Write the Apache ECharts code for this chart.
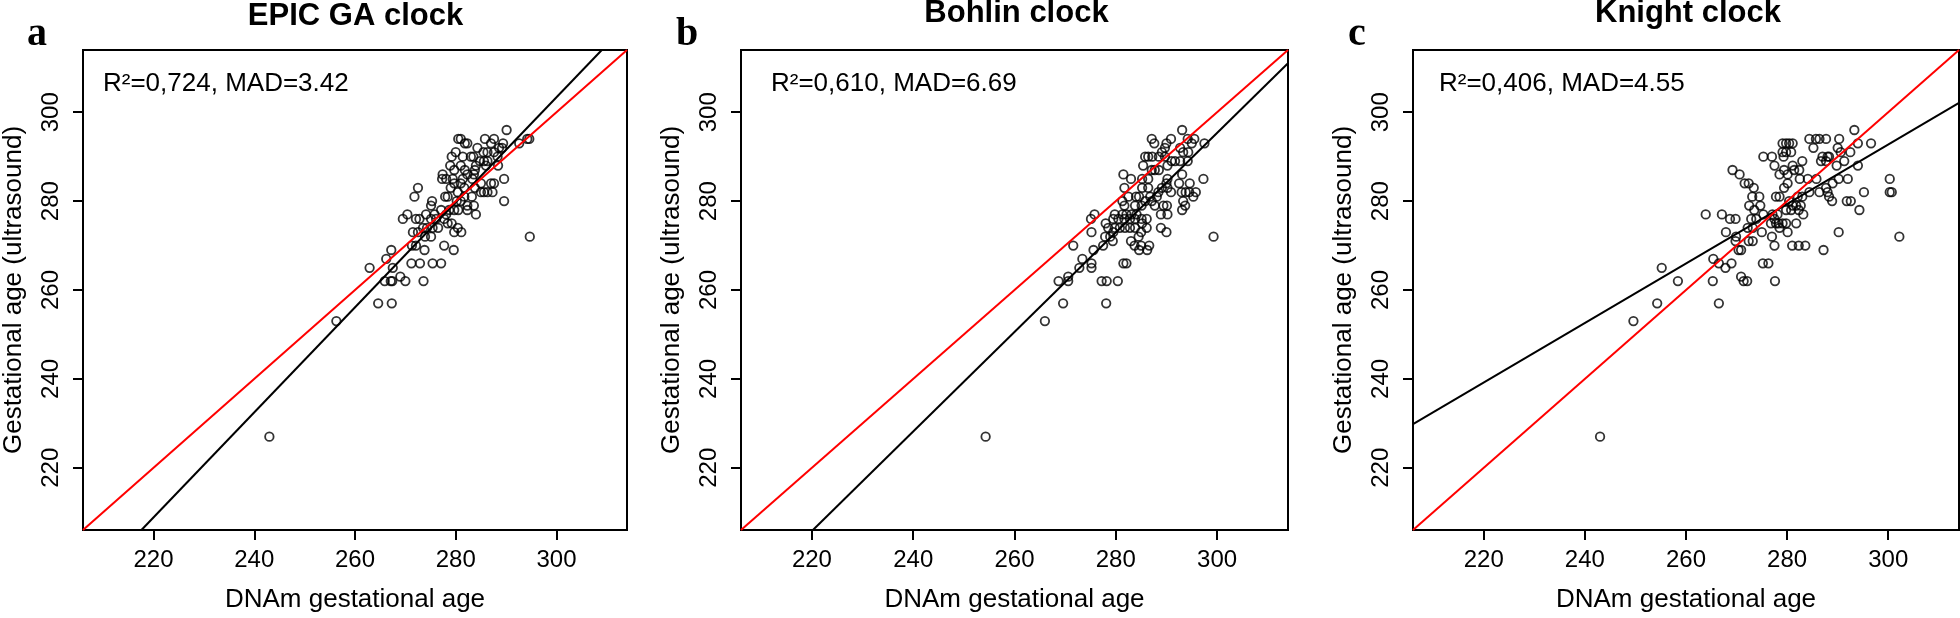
<!DOCTYPE html>
<html>
<head>
<meta charset="utf-8">
<script src="https://cdn.jsdelivr.net/npm/echarts@6/dist/echarts.min.js"></script>
<style>
html,body{margin:0;padding:0;background:#fff;}
#chart{width:1960px;height:618px;}
</style>
</head>
<body>
<div id="chart"></div>
<script>
// ---------- data ----------
const titles = ["EPIC GA clock", "Bohlin clock", "Knight clock"];
const panelLetters = ["a", "b", "c"];
const statTexts = ["R\u00B2=0,724, MAD=3.42", "R\u00B2=0,610, MAD=6.69", "R\u00B2=0,406, MAD=4.55"];
const tickValues = [220, 240, 260, 280, 300];
const axisRange = [206, 314];
const xAxisName = "DNAm gestational age";
const yAxisName = "Gestational age (ultrasound)";

const epicPoints = [[290.1,296],[280.5,294],[281.0,294],[285.8,294],[287.6,294],[292.6,293],[294.2,294],[294.6,294],[281.8,293],[282.3,293],[289.4,293],[287.0,293],[284.3,292],[288.6,292],[289.2,292],[280.0,291],[285.5,291],[286.3,291],[287.6,291],[279.2,290],[281.4,290],[283.0,290],[283.5,290],[284.8,289],[285.6,289],[286.3,289],[288.3,290],[278.9,288],[281.0,288],[284.0,288],[286.0,288],[288.4,288],[279.7,287],[281.8,287],[283.8,287],[277.4,286],[278.1,285],[282.3,286],[283.6,286],[289.6,285],[277.3,285],[279.4,285],[281.4,285],[283.3,285],[285.0,284],[287.0,284],[279.7,284],[281.0,284],[272.5,283],[279.0,283],[281.7,283],[283.8,283],[287.6,284],[271.8,281],[277.9,281],[278.4,281],[280.4,282],[281.7,281],[283.2,281],[285.0,282],[285.6,282],[286.3,282],[287.3,282],[289.6,280],[275.3,280],[280.2,280],[281.0,280],[282.3,279],[283.6,279],[270.4,277],[269.5,276],[275.1,279],[272.1,276],[272.8,276],[274.1,277],[275.8,277],[277.1,278],[278.1,277],[278.7,278],[279.7,278],[280.5,278],[282.3,278],[284.0,277],[275.1,276],[276.1,276],[277.7,276],[278.4,275],[279.2,275],[273.5,274],[274.3,274],[275.4,274],[276.5,274],[271.5,273],[272.5,273],[279.7,273],[281.1,273],[273.9,272],[275.1,272],[280.4,274],[294.7,272],[271.3,270],[272.1,270],[273.8,269],[277.7,270],[279.6,269],[267.2,269],[266.2,267],[271.2,266],[272.9,266],[275.4,266],[277.1,266],[267.5,265],[262.9,265],[269.0,263],[265.9,262],[267.1,262],[267.4,262],[270.0,262],[273.6,262],[264.6,257],[267.3,257],[256.3,253],[243.0,227]];

const bohlinPoints = [[293.1,296],[287.1,294],[287.6,293],[290.9,294],[290.0,293],[294.2,294],[295.5,294],[295.0,293],[297.5,293],[289.7,292],[289.1,291],[292.7,292],[293.3,291],[294.3,291],[285.8,290],[286.4,290],[287.2,290],[288.5,290],[289.7,290],[291.0,289],[291.7,289],[292.7,289],[294.2,289],[285.4,288],[287.1,287],[287.7,287],[288.5,287],[290.2,288],[281.5,286],[283.0,285],[286.4,285],[285.2,285],[290.2,285],[290.0,284],[293.1,286],[292.5,284],[294.6,284],[297.3,285],[281.7,283],[285.2,283],[286.4,283],[289.1,283],[290.2,283],[290.9,282],[293.0,282],[293.8,282],[294.5,282],[295.8,282],[288.4,282],[282.5,281],[284.0,281],[284.6,281],[286.8,281],[288.1,281],[295.3,281],[281.3,280],[281.7,279],[285.8,280],[287.1,280],[287.7,279],[289.4,279],[290.1,279],[293.3,280],[293.7,279],[283.8,279],[285.1,279],[279.8,277],[281.3,277],[282.1,277],[283.1,277],[284.1,277],[279.5,276],[280.5,276],[281.7,276],[282.8,276],[283.8,276],[285.1,276],[286.1,276],[288.9,277],[290.2,277],[293.1,278],[275.1,276],[275.8,277],[278.0,275],[278.5,274],[279.8,274],[280.8,274],[281.8,274],[282.8,274],[283.8,274],[285.2,275],[286.1,274],[275.2,273],[277.9,272],[279.5,273],[278.9,272],[285.0,273],[284.5,272],[288.9,274],[290.0,273],[279.4,271],[283.0,271],[283.7,270],[285.0,270],[286.6,270],[284.6,269],[286.2,269],[271.6,270],[275.6,269],[277.5,270],[273.4,267],[275.2,266],[275.2,265],[272.8,265],[270.6,263],[270.6,262],[268.7,262],[281.5,266],[282.1,266],[277.2,262],[278.2,262],[280.4,262],[269.6,257],[278.1,257],[266.0,253],[299.3,272],[254.3,227]];

const knightPoints = [[293.3,296],[284.4,294],[285.7,294],[286.4,294],[287.7,294],[290.3,294],[294.0,293],[296.6,293],[279.1,293],[279.8,293],[280.4,293],[281.1,293],[285.2,292],[290.0,292],[290.6,291],[279.1,291],[279.8,291],[280.8,291],[292.5,291],[275.3,290],[277.0,290],[279.3,290],[287.0,290],[288.0,290],[288.3,290],[286.7,289],[287.7,289],[291.3,289],[283.0,289],[277.5,288],[279.4,287],[281.1,288],[281.4,287],[282.4,287],[289.8,288],[294.0,288],[269.2,287],[270.6,286],[278.5,286],[280.1,286],[282.5,285],[284.1,285],[285.8,285],[290.2,285],[292.0,285],[300.3,285],[271.6,284],[272.4,284],[273.4,283],[280.1,284],[279.4,283],[289.0,284],[287.7,283],[286.4,282],[284.4,282],[288.0,282],[295.2,282],[300.3,282],[300.7,282],[273.1,281],[274.5,281],[277.8,281],[278.5,281],[282.1,281],[283.0,281],[288.3,281],[288.9,280],[291.8,280],[292.6,280],[280.4,280],[281.1,279],[281.8,279],[282.7,279],[272.5,279],[274.7,279],[279.8,278],[280.8,278],[282.3,278],[283.2,277],[294.3,278],[263.9,277],[267.1,277],[268.7,276],[269.8,276],[273.5,278],[272.9,276],[273.9,276],[275.3,277],[277.1,277],[278.1,277],[277.5,276],[278.3,275],[279.1,275],[279.8,275],[276.8,275],[277.8,275],[281.8,275],[272.2,274],[273.2,274],[278.5,274],[280.1,273],[275.0,273],[267.9,273],[290.2,273],[269.9,272],[277.0,272],[272.4,271],[273.2,271],[269.8,271],[277.5,270],[281.0,270],[282.3,270],[283.6,270],[287.2,269],[270.4,269],[270.9,269],[265.4,267],[266.5,266],[269.0,266],[267.8,265],[275.2,266],[276.3,266],[255.2,265],[270.9,263],[271.4,262],[272.1,262],[258.4,262],[265.3,262],[277.6,262],[254.3,257],[266.5,257],[249.6,253],[302.2,272],[243.0,227]];

// fitted regression lines (black), endpoints
const epicFit = [[217.6,206],[309.0,314]];
const bohlinFit = [[220.2,206],[314,311.0]];
const knightFit = [[206,229.8],[314,302.1]];
// identity line (red)
const identityLine = [[206,206],[314,314]];

// ---------- layout ----------
const panelPoints = [epicPoints, bohlinPoints, knightPoints];
const panelFits = [epicFit, bohlinFit, knightFit];
const gridBoxes = [
  {left:80, top:50, width:547, height:490},
  {left:741, top:50, width:547, height:490},
  {left:1413, top:50, width:546, height:490}
];
const titleY = [16.5, 13.5, 13.5];
const letterX = [27, 676, 1348];
const statX = [103, 771, 1439];

const FONT = '"Liberation Sans", Arial, sans-serif';

const grids = [], xAxes = [], yAxes = [], series = [], graphics = [];
gridBoxes.forEach((g, i) => {
  grids.push(Object.assign({show:true, borderColor:'#000', borderWidth:2, backgroundColor:'transparent'}, g));
  const common = {
    gridIndex:i, type:'value', min:axisRange[0], max:axisRange[1],
    axisLine:{show:false},
    splitLine:{show:false},
    axisTick:{show:true, inside:false, length:10, customValues:tickValues, lineStyle:{color:'#000', width:2}},
    nameLocation:'middle',
    nameTextStyle:{fontFamily:FONT, fontSize:26, color:'#000'}
  };
  xAxes.push(Object.assign({}, common, {
    name:xAxisName, nameGap:57,
    axisLabel:{customValues:tickValues, margin:18, fontFamily:FONT, fontSize:24, color:'#000'}
  }));
  yAxes.push(Object.assign({}, common, {
    name:yAxisName, nameGap:56,
    axisLabel:{customValues:tickValues, rotate:90, margin:20, fontFamily:FONT, fontSize:24, color:'#000'}
  }));
  series.push({
    type:'scatter', xAxisIndex:i, yAxisIndex:i, data:panelPoints[i],
    symbol:'circle', symbolSize:8.5,
    itemStyle:{color:'rgba(0,0,0,0)', borderColor:'#000', borderWidth:1.8},
    silent:true, z:3
  });
  series.push({
    type:'line', xAxisIndex:i, yAxisIndex:i, data:panelFits[i],
    symbol:'none', clip:true, lineStyle:{color:'#000', width:2}, silent:true, z:4
  });
  series.push({
    type:'line', xAxisIndex:i, yAxisIndex:i, data:identityLine,
    symbol:'none', clip:true, lineStyle:{color:'#ff0000', width:2}, silent:true, z:5
  });
  const cx = g.left + g.width/2 + 2;
  graphics.push({type:'text', x:cx, y:titleY[i], style:{text:titles[i], font:'bold 31px ' + FONT, fill:'#000', align:'center', verticalAlign:'middle'}});
  graphics.push({type:'text', x:letterX[i], y:35, style:{text:panelLetters[i], font:'bold 40px "Liberation Serif", "Times New Roman", serif', fill:'#000', align:'left', verticalAlign:'middle'}});
  graphics.push({type:'text', x:statX[i], y:84, style:{text:statTexts[i], font:'26px ' + FONT, fill:'#000', align:'left', verticalAlign:'middle'}, z:10});
});

const chart = echarts.init(document.getElementById('chart'), null, {renderer:'canvas'});
chart.setOption({
  animation:false,
  backgroundColor:'#fff',
  grid:grids, xAxis:xAxes, yAxis:yAxes, series:series, graphic:graphics
});
</script>
</body>
</html>
